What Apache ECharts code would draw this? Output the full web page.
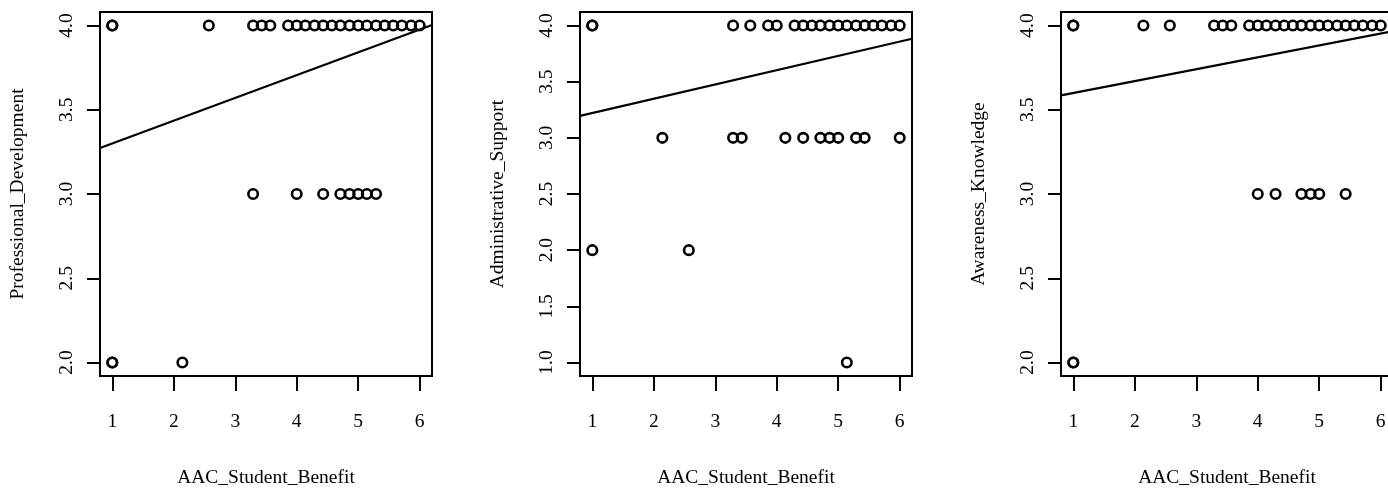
<!DOCTYPE html>
<html><head><meta charset="utf-8">
<script src="https://cdn.jsdelivr.net/npm/echarts@6/dist/echarts.min.js"></script>
<style>html,body{margin:0;padding:0;background:#fff}#c{width:1388px;height:490px}</style>
</head><body><div id="c"></div>
<script>
const xName = 'AAC_Student_Benefit';
const yNames = ['Professional_Development', 'Administrative_Support', 'Awareness_Knowledge'];
const xTickValues = [1, 2, 3, 4, 5, 6];
const yTicks1 = [2.0, 2.5, 3.0, 3.5, 4.0];
const yTicks2 = [1.0, 1.5, 2.0, 2.5, 3.0, 3.5, 4.0];
const yTicks3 = [2.0, 2.5, 3.0, 3.5, 4.0];

// Panel 1: Professional_Development
const pdX = [1, 1, 2.57, 3.29, 3.43, 3.57, 3.86, 4.00, 4.14, 4.29, 4.43, 4.57, 4.71, 4.86, 5.00, 5.14, 5.29, 5.43, 5.57, 5.71, 5.86, 6.00,
             3.29, 4.00, 4.43, 4.71, 4.86, 5.00, 5.14, 5.29,
             1, 1, 2.14];
const pdY = [4, 4, 4, 4, 4, 4, 4, 4, 4, 4, 4, 4, 4, 4, 4, 4, 4, 4, 4, 4, 4, 4,
             3, 3, 3, 3, 3, 3, 3, 3,
             2, 2, 2];
// Panel 2: Administrative_Support
const asX = [1, 1, 3.29, 3.57, 3.86, 4.00, 4.29, 4.43, 4.57, 4.71, 4.86, 5.00, 5.14, 5.29, 5.43, 5.57, 5.71, 5.86, 6.00,
             2.14, 3.29, 3.43, 4.14, 4.43, 4.71, 4.86, 5.00, 5.29, 5.43, 6.00,
             1, 2.57,
             5.14];
const asY = [4, 4, 4, 4, 4, 4, 4, 4, 4, 4, 4, 4, 4, 4, 4, 4, 4, 4, 4,
             3, 3, 3, 3, 3, 3, 3, 3, 3, 3, 3,
             2, 2,
             1];
// Panel 3: Awareness_Knowledge
const akX = [1, 1, 2.14, 2.57, 3.29, 3.43, 3.57, 3.86, 4.00, 4.14, 4.29, 4.43, 4.57, 4.71, 4.86, 5.00, 5.14, 5.29, 5.43, 5.57, 5.71, 5.86, 6.00,
             4.00, 4.29, 4.71, 4.86, 5.00, 5.43,
             1, 1];
const akY = [4, 4, 4, 4, 4, 4, 4, 4, 4, 4, 4, 4, 4, 4, 4, 4, 4, 4, 4, 4, 4, 4, 4,
             3, 3, 3, 3, 3, 3,
             2, 2];

// fitted regression lines (endpoints at the plot edges)
const fitX = [0.8, 6.2];
const fit1Y = [3.273, 4.003];
const fit2Y = [3.196, 3.882];
const fit3Y = [3.585, 3.966];

const xRange = [0.8, 6.2];
const yRange1 = [1.92, 4.08];
const yRange2 = [0.88, 4.12];
const yRange3 = [1.92, 4.08];

const FONT = 'Liberation Serif';
const lefts = [100, 580, 1061];
const panels = [
  {xs: pdX, ys: pdY, fit: fit1Y, ticks: yTicks1, range: yRange1},
  {xs: asX, ys: asY, fit: fit2Y, ticks: yTicks2, range: yRange2},
  {xs: akX, ys: akY, fit: fit3Y, ticks: yTicks3, range: yRange3}
];

const grid = [], xAxis = [], yAxis = [], series = [];
panels.forEach((p, i) => {
  grid.push({left: lefts[i], top: 12, width: 332, height: 364, show: true,
             borderColor: '#000', borderWidth: 2, backgroundColor: 'transparent',
             containLabel: false, outerBoundsMode: 'none'});
  xAxis.push({
    type: 'value', gridIndex: i, min: xRange[0], max: xRange[1],
    name: xName, nameLocation: 'middle', nameGap: 92,
    nameTextStyle: {fontFamily: FONT, fontSize: 19.5, color: '#000'},
    axisLine: {show: false}, splitLine: {show: false},
    axisTick: {show: true, length: 15, lineStyle: {color: '#000', width: 2}, customValues: xTickValues},
    axisLabel: {show: true, margin: 36, fontFamily: FONT, fontSize: 19.5, color: '#000', customValues: xTickValues,
                formatter: v => String(Math.round(v))}
  });
  yAxis.push({
    type: 'value', gridIndex: i, min: p.range[0], max: p.range[1],
    name: yNames[i], nameLocation: 'middle', nameGap: 72, nameRotate: 90,
    nameTextStyle: {fontFamily: FONT, fontSize: 19.5, color: '#000'},
    axisLine: {show: false}, splitLine: {show: false},
    axisTick: {show: true, length: 13, lineStyle: {color: '#000', width: 2}, customValues: p.ticks},
    axisLabel: {show: true, rotate: 90, margin: 23, fontFamily: FONT, fontSize: 19.5, color: '#000', customValues: p.ticks,
                formatter: v => Number(v).toFixed(1)}
  });
  series.push({
    type: 'scatter', xAxisIndex: i, yAxisIndex: i,
    data: p.xs.map((x, k) => [x, p.ys[k]]),
    symbol: 'circle', symbolSize: 9.5,
    itemStyle: {color: 'rgba(0,0,0,0)', borderColor: '#000', borderWidth: 2.6, opacity: 1},
    silent: true, animation: false
  });
  series.push({
    type: 'line', xAxisIndex: i, yAxisIndex: i,
    data: fitX.map((x, k) => [x, p.fit[k]]),
    showSymbol: false, symbol: 'none', clip: true,
    lineStyle: {color: '#000', width: 2.2},
    silent: true, animation: false
  });
});

const chart = echarts.init(document.getElementById('c'), null, {renderer: 'canvas'});
chart.setOption({animation: false, backgroundColor: '#fff', grid, xAxis, yAxis, series});
</script></body></html>
